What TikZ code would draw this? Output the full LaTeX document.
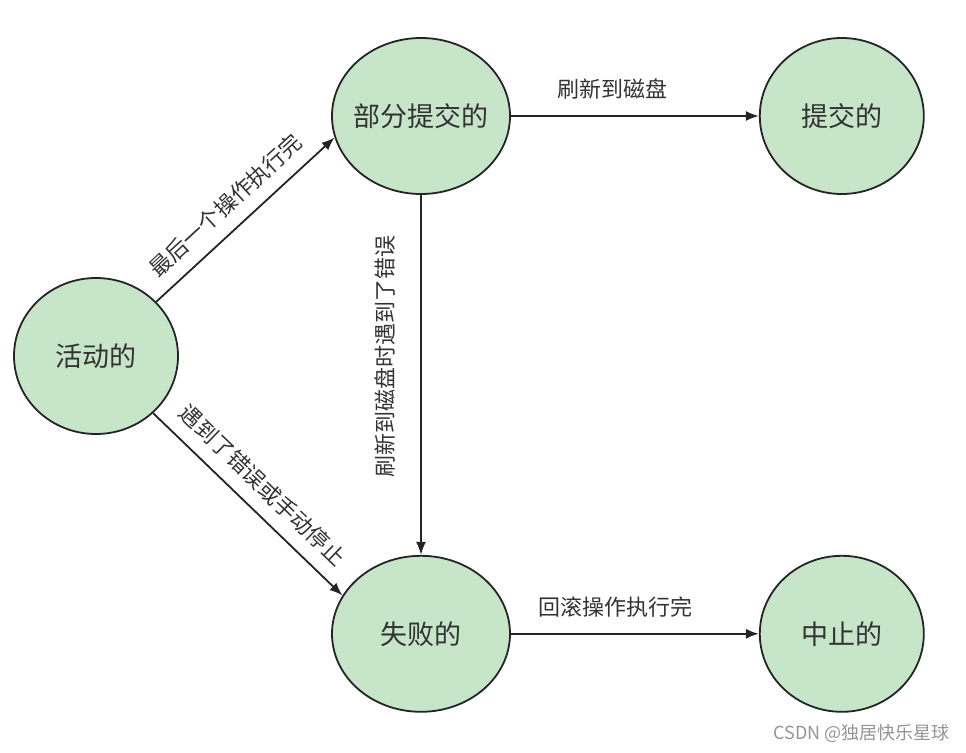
\documentclass[tikz,border=0pt]{standalone}
\usepackage{fontspec}
\setmainfont{Noto Sans CJK SC}
\usetikzlibrary{shapes, arrows.meta, positioning}
\definecolor{stategreen}{RGB}{198,229,201}
\definecolor{linegray}{RGB}{36,36,36}
\definecolor{textgray}{RGB}{51,51,51}
\tikzstyle{state} = [ellipse, draw=linegray, fill=stategreen, line width=1.8pt, minimum width=164pt, minimum height=156pt, inner sep=0pt, text=textgray, font=\fontsize{27}{30}\selectfont]
\tikzstyle{wide state} = [state, minimum width=178pt, inner xsep=-6pt]
\tikzstyle{line} = [draw=linegray, line width=1.8pt, -{Latex[length=13pt, width=10pt]}]
\tikzstyle{edgetext} = [inner sep=0pt, text=textgray, font=\fontsize{22}{24}\selectfont]
\tikzstyle{watermark} = [inner sep=0pt, text=black!42, font=\fontsize{18}{20}\selectfont]

\begin{document}
\begin{tikzpicture}[x=1pt, y=1pt]
        \useasboundingbox (0,0) rectangle (966,-752);

        \node[state] (active) at (96,-356) {活动的};

        \node[wide state] (partial) at (421,-116) {部分提交的};

        \node[state, right=248pt of partial] (committed) {提交的};

        \node[wide state, below=360pt of partial] (failed) {失败的};

        \node[state, right=248pt of failed] (aborted) {中止的};

        \path[line] (active.42) -- node[edgetext, sloped, above=13pt, pos=0.48] {最后一个操作执行完} (partial.194);
        \path[line] (active.-45) -- node[edgetext, sloped, above=13pt, pos=0.49] {遇到了错误或手动停止} (failed.154);
        \path[line] (partial) -- node[edgetext, xshift=-36pt, rotate=90, pos=0.45] {刷新到磁盘时遇到了错误} (failed);
        \path[line] (partial) -- node[edgetext, above=16pt, pos=0.41] {刷新到磁盘} (committed);
        \path[line] (failed) -- node[edgetext, above=16pt, pos=0.42] {回滚操作执行完} (aborted);

        \node[watermark, anchor=east] (csdn) at (950,-733) {CSDN @独居快乐星球};
    \end{tikzpicture}
\end{document}
